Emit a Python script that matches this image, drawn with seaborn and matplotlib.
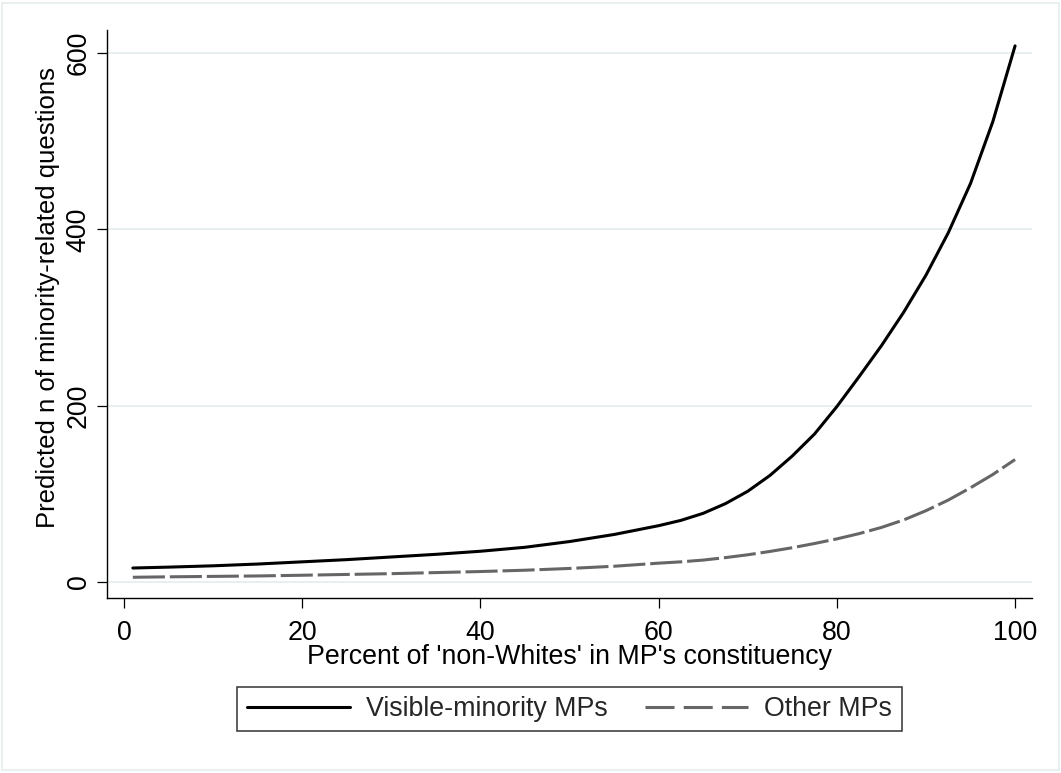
import matplotlib
matplotlib.use("Agg")
import matplotlib.pyplot as plt
from matplotlib.lines import Line2D
from matplotlib.patches import Rectangle
import seaborn as sns
import pandas as pd

# ---- data ----
pct_nonwhite = [1, 5, 10, 15, 20, 25, 30, 35, 40, 45, 50, 55, 60, 62.5, 65, 67.5,
                70, 72.5, 75, 77.5, 80, 82.5, 85, 87.5, 90, 92.5, 95, 97.5, 100]
visible_minority = [16, 17, 18.5, 20.5, 23, 25.5, 28.5, 31.5, 35, 39.5, 46, 54, 64, 70,
                    78, 89, 103, 121, 143, 168, 199, 233, 268, 306, 348, 396, 452, 522, 608]
other_mps = [5.5, 6, 6.5, 7, 7.8, 8.7, 9.6, 10.8, 12, 13.5, 15.5, 18, 21.5, 23, 25, 27.8,
             31, 34.8, 39, 43.8, 49, 55, 62, 70.5, 81, 93, 107, 122, 139]

x_ticks = [0, 20, 40, 60, 80, 100]
y_ticks = [0, 200, 400, 600]
series_names = ["Visible-minority MPs", "Other MPs"]
x_title = "Percent of 'non-Whites' in MP's constituency"
y_title = "Predicted n of minority-related questions"

df = pd.DataFrame({"x": pct_nonwhite, "vis": visible_minority, "oth": other_mps})

sns.set_theme(style="white")
plt.rcParams["font.family"] = ["Liberation Sans", "DejaVu Sans"]
FS = 19.3
LW = 2.2

W, H = 1061, 773
fig = plt.figure(figsize=(W / 100, H / 100), dpi=100)
fig.patch.set_facecolor("white")
L, R, T, B = 107, 1032, 30, 598
ax = fig.add_axes([L / W, 1 - B / H, (R - L) / W, (B - T) / H])
ax.set_facecolor("white")

sns.lineplot(data=df, x="x", y="vis", ax=ax, color="black", linewidth=LW,
             estimator=None, sort=False, zorder=3)
sns.lineplot(data=df, x="x", y="oth", ax=ax, color="#666666", linewidth=LW,
             estimator=None, sort=False, zorder=3)
ax.lines[-1].set_dashes([10.5, 1.6])

ax.set_xlim(-1.9, 101.9)
ax.set_ylim(-18, 626)
ax.set_xticks(x_ticks)
ax.set_yticks(y_ticks)
ax.set_xticklabels([str(v) for v in x_ticks], fontsize=FS)
ax.set_yticklabels([str(v) for v in y_ticks], fontsize=FS)
for lab in ax.get_yticklabels():
    lab.set_rotation(90)
    lab.set_va("center")
    lab.set_ha("right")

ax.grid(False)
for v in y_ticks:
    ax.axhline(v, color="#e6eef0", linewidth=1.3, zorder=1)

for s in ["top", "right"]:
    ax.spines[s].set_visible(False)
for s in ["left", "bottom"]:
    ax.spines[s].set_color("black")
    ax.spines[s].set_linewidth(1.0)

ax.tick_params(axis="x", direction="out", length=7.5, width=0.9, color="black",
               pad=8, labelcolor="black", bottom=True)
ax.tick_params(axis="y", direction="out", length=7.5, width=0.9, color="black",
               pad=3.5, labelcolor="black", left=True)

ax.set_xlabel(x_title, fontsize=FS, color="black")
ax.xaxis.label.set_va("baseline")
ax.xaxis.set_label_coords(0.5, (B - 664) / (B - T))
ax.set_ylabel(y_title, fontsize=18.5, color="black")
ax.yaxis.label.set_va("baseline")
ax.yaxis.set_label_coords((55 - L) / (R - L), (B - 298) / (B - T))

handles = [Line2D([0], [0], color="black", linewidth=LW),
           Line2D([0], [0], color="#666666", linewidth=LW, dashes=[9.5, 3.0])]
leg = ax.legend(handles, series_names, loc="center", ncol=2,
                bbox_to_anchor=(0.5, (B - 709) / (B - T)), fontsize=FS,
                frameon=True, fancybox=False, edgecolor="black",
                handlelength=3.85, handletextpad=0.6, columnspacing=1.4,
                borderpad=0.35, borderaxespad=0)
leg.get_frame().set_linewidth(1.1)
leg.get_frame().set_facecolor("white")

fig.patches.append(Rectangle((2 / W, 1 - 770 / H), 1057 / W, 767 / H,
                             transform=fig.transFigure, fill=False,
                             edgecolor="#e6ecee", linewidth=1.2))

fig.savefig("out.png", dpi=100, facecolor="white")
